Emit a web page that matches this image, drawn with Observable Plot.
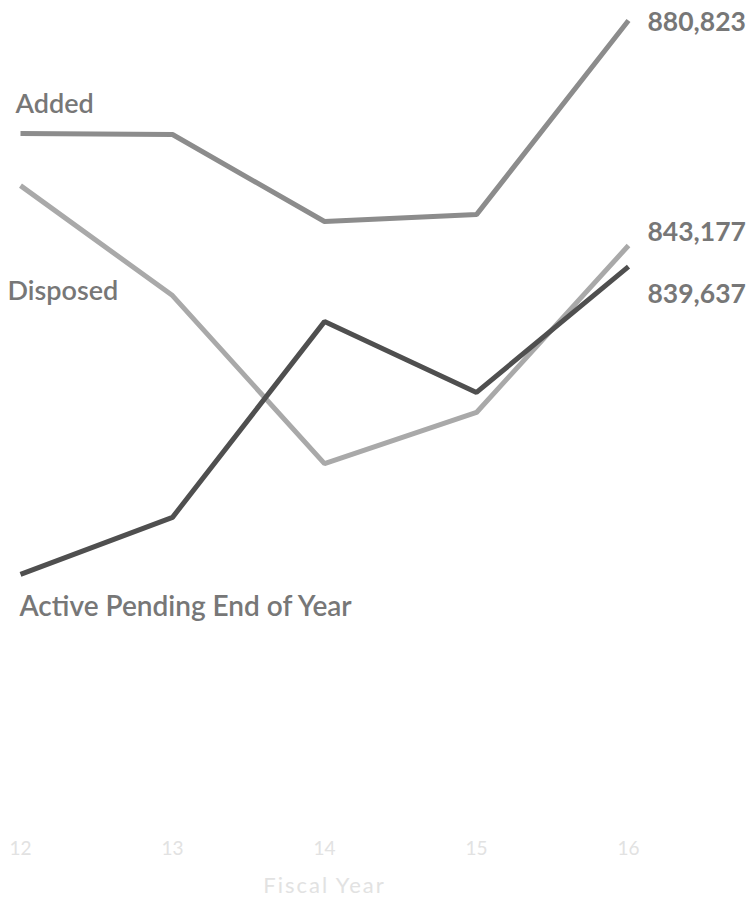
<!DOCTYPE html>
<html>
<head>
<meta charset="utf-8">
<script src="https://cdn.jsdelivr.net/npm/d3@7"></script>
<script src="https://cdn.jsdelivr.net/npm/@observablehq/plot@0.6"></script>
<style>
  html, body { margin: 0; padding: 0; background: #fff; }
  #chart { width: 746px; height: 908px; }
</style>
</head>
<body>
<div id="chart"></div>
<script>
// Fiscal years (x axis)
const years = [12, 13, 14, 15, 16];
const yearLabels = ["12", "13", "14", "15", "16"];

// Series values (last values are labelled)
const added    = [861900, 861750, 847200, 848350, 880823];
const disposed = [853200, 834800, 806700, 815250, 843177];
const pending  = [788150, 797700, 830450, 818600, 839637];

const seriesNames = ["Added", "Disposed", "Active Pending End of Year"];
const seriesValues = [added, disposed, pending];

// Styles (kept separate from data)
const colors = ["#8c8c8c", "#a9a9a9", "#4f4f4f"];
const nameDx = [-5, -13, -1];
const nameDy = [-29, 106, 33];
const valueDy = [2, -13, 28];

const rows = [];
seriesNames.forEach((name, i) => {
  years.forEach((yr, j) => rows.push({series: name, year: yr, value: seriesValues[i][j], idx: i}));
});
const firsts = seriesNames.map((name, i) => ({series: name, year: years[0], value: seriesValues[i][0], idx: i}));
const lasts = seriesNames.map((name, i) => ({series: name, year: years[years.length - 1], value: seriesValues[i][years.length - 1], idx: i}));

const fmt = d3.format(",");
const font = "Lato, 'Open Sans', sans-serif";

const marks = [];
seriesNames.forEach((name, i) => {
  marks.push(Plot.line(rows.filter(r => r.idx === i), {
    x: "year", y: "value", stroke: colors[i], strokeWidth: 5, strokeLinejoin: "miter", strokeLinecap: "butt"
  }));
  marks.push(Plot.text([firsts[i]], {
    x: "year", y: "value", text: "series", textAnchor: "start", dx: nameDx[i], dy: nameDy[i],
    fill: "#777", fontSize: i === 2 ? 28 : 27, fontWeight: 600
  }));
  marks.push(Plot.text([lasts[i]], {
    x: "year", y: "value", text: d => fmt(d.value), textAnchor: "start", dx: 19, dy: valueDy[i],
    fill: "#777", fontSize: 26.5, fontWeight: 700
  }));
});

const chart = Plot.plot({
  width: 746,
  height: 908,
  marginLeft: 20,
  marginRight: 118,
  marginTop: 20,
  marginBottom: 78,
  style: { fontFamily: font, background: "#fff", overflow: "visible" },
  x: { type: "linear", domain: [12, 16] },
  y: { domain: [745310, 880823], axis: null },
  marks: [
    Plot.axisX({ticks: years, tickFormat: d => yearLabels[years.indexOf(d)], tickSize: 0, tickPadding: 11,
      fontSize: 19, color: "#e2e2e2", label: "Fiscal Year", labelAnchor: "center", labelArrow: "none", labelOffset: 62}),
    ...marks
  ]
});
document.getElementById("chart").appendChild(chart);
chart.querySelectorAll("g[aria-label='x-axis label']").forEach(g => {
  g.setAttribute("font-size", 22);
  g.setAttribute("letter-spacing", 2);
  g.setAttribute("fill", "#e2e2e2");
});
</script>
</body>
</html>
